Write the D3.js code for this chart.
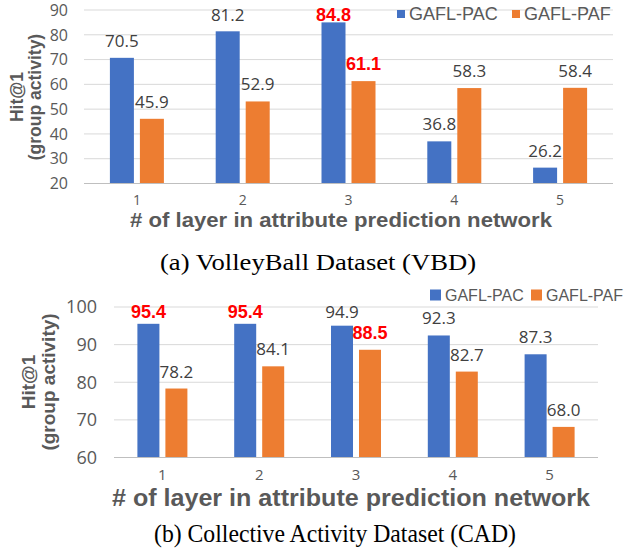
<!DOCTYPE html>
<html>
<head>
<meta charset="utf-8">
<script src="https://cdn.jsdelivr.net/npm/d3@7"></script>
<style>
  html, body { margin: 0; padding: 0; background: #fff; }
  svg { display: block; }
</style>
</head>
<body>
<div id="chart"></div>
<script>
// data
var layers = ["1", "2", "3", "4", "5"];
var seriesNames = ["GAFL-PAC", "GAFL-PAF"];
var vbdPac = [70.5, 81.2, 84.8, 36.8, 26.2];
var vbdPaf = [45.9, 52.9, 61.1, 58.3, 58.4];
var cadPac = [95.4, 95.4, 94.9, 92.3, 87.3];
var cadPaf = [78.2, 84.1, 88.5, 82.7, 68.0];
var vbdTicks = [20, 30, 40, 50, 60, 70, 80, 90];
var cadTicks = [60, 70, 80, 90, 100];

var svg = d3.select("#chart").append("svg")
    .attr("width", 624).attr("height", 552);
svg.append("rect").attr("width", 624).attr("height", 552).attr("fill", "#fff");

var color = d3.scaleOrdinal().domain(seriesNames).range(["#4472C4", "#ED7D31"]);
var fmt = d3.format(".1f");

function drawPanel(p) {
    var g = svg.append("g");
    var x0 = d3.scaleBand().domain(layers).range([p.left, p.right]);
    var x1 = d3.scaleBand().domain(seriesNames)
        .range([0, p.groupW]).paddingInner(p.barGap);
    var y = d3.scaleLinear().domain([p.ticks[0], p.ticks[p.ticks.length - 1]])
        .range([p.bottom, p.top]);

    // gridlines + tick labels
    var yAxis = d3.axisLeft(y).tickValues(p.ticks)
        .tickSize(-(p.right - p.left)).tickPadding(p.left - p.tickX);
    var ya = g.append("g").attr("transform", "translate(" + p.left + ",0)").call(yAxis);
    ya.select(".domain").remove();
    ya.selectAll(".tick line").attr("stroke", function(d) { return d === p.ticks[0] ? "#bfbfbf" : "#d9d9d9"; });
    ya.selectAll(".tick text").attr("dy", "0.36em")
        .attr("font-family", "Open Sans").attr("font-size", p.yTickSize).attr("fill", "#595959");

    var xAxis = d3.axisBottom(x0).tickSize(0).tickPadding(0);
    var xa = g.append("g").attr("transform", "translate(0," + p.xTickY + ")").call(xAxis);
    xa.select(".domain").remove();
    xa.selectAll(".tick text").attr("dy", 0)
        .attr("font-family", "Open Sans").attr("font-size", p.xTickSize).attr("fill", "#595959");

    var rows = layers.map(function(l, i) {
        return { layer: l, vals: [
            { name: seriesNames[0], value: p.pac[i], best: p.pac[i] === d3.max(p.pac) },
            { name: seriesNames[1], value: p.paf[i], best: p.paf[i] === d3.max(p.paf) }
        ] };
    });
    var off = (x0.bandwidth() - p.groupW) / 2;

    var grp = g.selectAll(".grp").data(rows).enter().append("g")
        .attr("transform", function(d) { return "translate(" + (x0(d.layer) + off) + ",0)"; });
    grp.selectAll("rect").data(function(d) { return d.vals; }).enter().append("rect")
        .attr("x", function(d) { return x1(d.name); })
        .attr("y", function(d) { return y(d.value); })
        .attr("width", x1.bandwidth())
        .attr("height", function(d) { return p.bottom - y(d.value); })
        .attr("fill", function(d) { return color(d.name); });
    grp.selectAll("text").data(function(d) { return d.vals; }).enter().append("text")
        .attr("x", function(d) { return x1(d.name) + x1.bandwidth() / 2; })
        .attr("y", function(d) { return Math.max(y(d.value) - 11, p.top + 11); })
        .attr("text-anchor", "middle")
        .attr("font-family", function(d) { return d.best ? "Liberation Sans" : "Open Sans"; })
        .attr("font-weight", function(d) { return d.best ? "bold" : "normal"; })
        .attr("font-size", function(d) { return d.best ? p.labelSize + 1 : p.labelSize; })
        .attr("fill", function(d) { return d.best ? "#FF0000" : "#404040"; })
        .text(function(d) { return fmt(d.value); });

    // y title
    var yt = g.append("g").attr("transform", "translate(0," + p.yTitleY + ") rotate(-90)")
        .attr("font-family", "Liberation Sans").attr("font-weight", "bold")
        .attr("font-size", p.yTitleSize).attr("fill", "#595959").attr("text-anchor", "middle");
    yt.append("text").attr("x", 0).attr("y", p.yTitleX[0]).text("Hit@1");
    yt.append("text").attr("x", 0).attr("y", p.yTitleX[1]).text("(group activity)");

    // x title
    g.append("text")
        .attr("x", p.xTitle[0]).attr("y", p.xTitle[1])
        .attr("text-anchor", "middle")
        .attr("font-family", "Liberation Sans").attr("font-weight", "bold")
        .attr("font-size", p.xTitle[2]).attr("fill", "#595959")
        .attr("textLength", p.xTitle[3]).attr("lengthAdjust", "spacingAndGlyphs")
        .text("# of layer in attribute prediction network");

    // caption
    g.append("text")
        .attr("x", p.caption[0]).attr("y", p.caption[1])
        .attr("text-anchor", "middle")
        .attr("font-family", "Liberation Serif")
        .attr("font-size", p.caption[2]).attr("fill", "#000")
        .attr("textLength", p.caption[3]).attr("lengthAdjust", "spacingAndGlyphs")
        .text(p.captionText);

    // legend
    var lg = g.selectAll(".legend").data(seriesNames).enter().append("g")
        .attr("transform", function(d, i) { return "translate(" + p.legendX[i] + "," + p.legendY + ")"; });
    lg.append("rect").attr("x", 0).attr("y", -p.legendSq / 2)
        .attr("width", p.legendSq).attr("height", p.legendSq).attr("fill", color);
    lg.append("text").attr("x", p.legendSq + 4).attr("y", 0).attr("dy", "0.35em")
        .attr("font-family", "Liberation Sans").attr("font-size", p.legendSize).attr("fill", "#595959")
        .text(function(d) { return d; });
}

drawPanel({
    pac: vbdPac, paf: vbdPaf, ticks: vbdTicks,
    left: 84, right: 613, top: 9.5, bottom: 183,
    groupW: 54, barGap: 0.2, tickX: 68,
    yTickSize: 16, xTickSize: 14, xTickY: 205, labelSize: 17,
    yTitleY: 97, yTitleX: [23, 40.5], yTitleSize: 17.5,
    xTitle: [341, 227, 21, 422],
    caption: [318, 270, 24, 316], captionText: "(a) VolleyBall Dataset (VBD)",
    legendX: [397, 512], legendY: 14, legendSq: 8, legendSize: 18
});

drawPanel({
    pac: cadPac, paf: cadPaf, ticks: cadTicks,
    left: 114, right: 598, top: 306.5, bottom: 457,
    groupW: 50, barGap: 0.214, tickX: 97,
    yTickSize: 18, xTickSize: 15, xTickY: 480, labelSize: 17,
    yTitleY: 382, yTitleX: [35, 55], yTitleSize: 19,
    xTitle: [351, 506, 24, 478],
    caption: [335, 542, 26, 362], captionText: "(b) Collective Activity Dataset (CAD)",
    legendX: [430, 531], legendY: 295, legendSq: 11, legendSize: 16
});
</script>
</body>
</html>
